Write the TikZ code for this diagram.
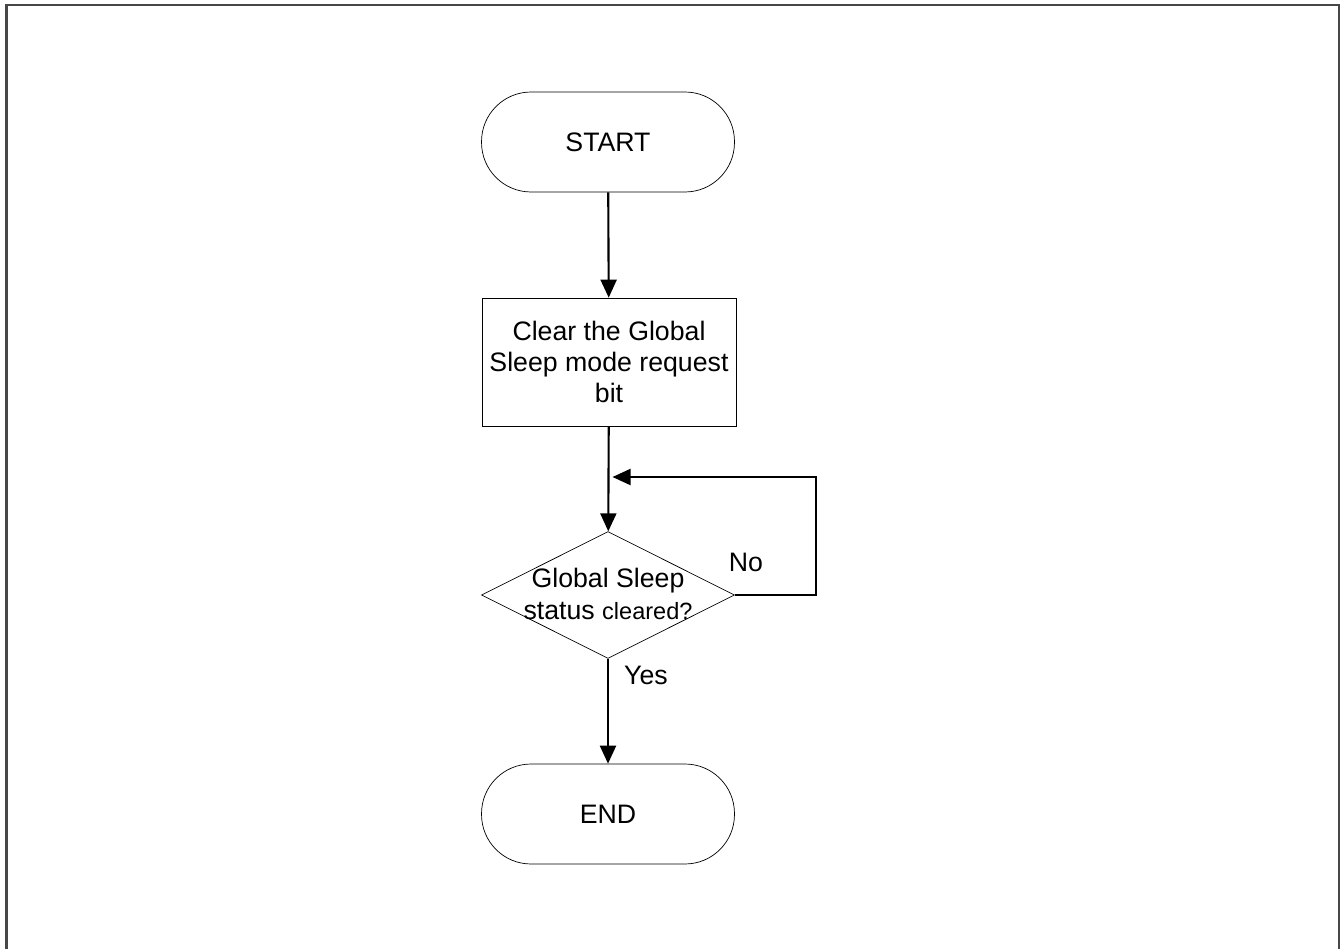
\documentclass[tikz,border=0pt]{standalone}
\usepackage{fontspec}
\setmainfont{Liberation Sans}
\usepackage{xcolor}
\usepackage{tikz}
\usetikzlibrary{positioning,shapes.geometric,arrows.meta}

\begin{document}
\begin{tikzpicture}[x=0.02cm, y=-0.02cm, >={Triangle[length=0.36cm,width=0.32cm]},
    terminal/.style={rectangle, draw=black, thin, rounded corners=0.99cm, minimum width=5.06cm, minimum height=2cm, align=center, font=\fontsize{15.2}{17.8}\selectfont},
    process/.style={rectangle, draw=black, thin, minimum width=5.08cm, minimum height=2.56cm, align=center, inner sep=0pt, font=\fontsize{15.2}{17.8}\selectfont},
    decision/.style={diamond, draw=black, thin, minimum width=5.06cm, minimum height=2.54cm, inner sep=0pt},
    txt/.style={align=center, font=\fontsize{15.2}{17.8}\selectfont},
    arrow/.style={->, line width=1.2pt},
    frame/.style={draw=black!72, line width=1.3pt}]

    \useasboundingbox (0,0) rectangle (1341,949);
    \draw [frame] (6.5,960) -- (6.5,5) -- (1339,5) -- (1339,960);

    \node [terminal] at (608,142) (start) {START};
    \node [process]  at (609,362) (clear) {Clear the Global\\Sleep mode request\\bit};
    \node [decision] at (608,595) (check) {};
    \node [txt]      at (608,594) (checktxt) {Global Sleep\\status {\fontsize{13.4}{17.8}\selectfont cleared?}};
    \node [terminal] at (608,814) (end) {END};

    \coordinate (merge) at (clear.south |- 0,477);

    \draw [arrow] (start) -- (clear);
    \draw [arrow] (clear) -- (check);
    \draw [arrow] (check.east) -- ++(81,0) |- ([xshift=2pt]merge);
    \draw [arrow] (check) -- (end);

    \node [txt] at (746,562) (no) {No};
    \node [txt] at (646,675) (yes) {Yes};
\end{tikzpicture}
\end{document}
